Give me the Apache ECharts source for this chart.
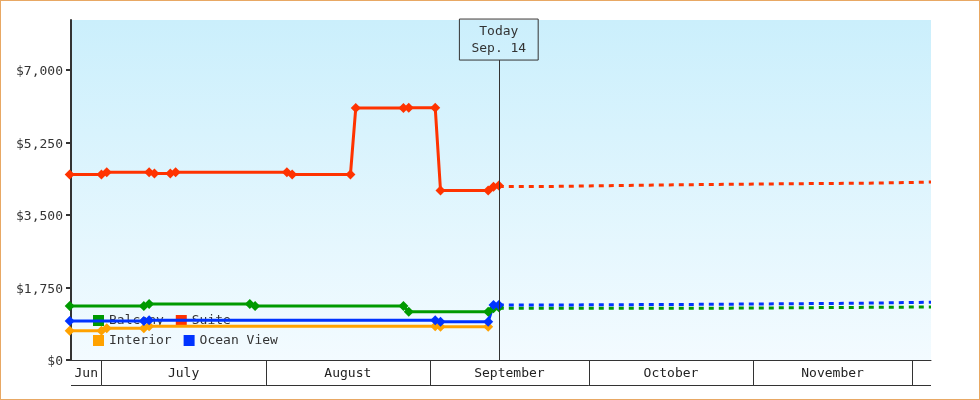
<!DOCTYPE html>
<html lang="en">
<head>
<meta charset="UTF-8">
<title>Cabin prices</title>
<style>
  html, body { margin: 0; padding: 0; background: #fff; }
  #wrap { position: relative; width: 980px; height: 400px; }
  #chart { width: 980px; height: 400px; }
  #frame { position: absolute; left: 0; top: 0; width: 980px; height: 400px;
           box-sizing: border-box; border: 1px solid #e8a864; pointer-events: none; }
</style>
</head>
<body>
<div id="wrap">
  <div id="chart"></div>
  <div id="frame"></div>
</div>
<script src="https://cdn.jsdelivr.net/npm/echarts@6/dist/echarts.min.js"></script>
<script>
// axis range and labels
var xStart = '2013-06-25 06:00';
var xEnd = '2013-12-04 14:00';
var today = '2013-09-14';
var todayLabel = 'Today\nSep. 14';
var yTicks = [0, 1750, 3500, 5250, 7000];
var yMax = 8207;
var todayLineTop = 7240;

var monthStarts = ['2013-06-01', '2013-07-01', '2013-08-01', '2013-09-01',
                   '2013-10-01', '2013-11-01', '2013-12-01', '2014-01-01'];
var monthLabels = ['Jun', 'July', 'August', 'September', 'October', 'November', ''];

// observed prices
var balcony = [
  ['2013-06-25', 1303], ['2013-07-09', 1303], ['2013-07-10', 1352], ['2013-07-29', 1352],
  ['2013-07-30', 1303], ['2013-08-27', 1303], ['2013-08-28', 1166], ['2013-09-12', 1166],
  ['2013-09-13', 1248], ['2013-09-14', 1272]
];
var suite = [
  ['2013-06-25', 4480], ['2013-07-01', 4480], ['2013-07-02', 4530], ['2013-07-10', 4530],
  ['2013-07-11', 4500], ['2013-07-14', 4500], ['2013-07-15', 4530], ['2013-08-05', 4530],
  ['2013-08-06', 4480], ['2013-08-17', 4480], ['2013-08-18', 6080], ['2013-08-27', 6080],
  ['2013-08-28', 6090], ['2013-09-02', 6090], ['2013-09-03', 4090], ['2013-09-12', 4090],
  ['2013-09-13', 4180], ['2013-09-14', 4210]
];
var interior = [
  ['2013-06-25', 708], ['2013-07-01', 708], ['2013-07-02', 764], ['2013-07-09', 764],
  ['2013-07-10', 815], ['2013-09-02', 815], ['2013-09-03', 805], ['2013-09-12', 805]
];
var oceanView = [
  ['2013-06-25', 941], ['2013-07-09', 941], ['2013-07-10', 958], ['2013-09-02', 958],
  ['2013-09-03', 926], ['2013-09-12', 926], ['2013-09-13', 1330], ['2013-09-14', 1330]
];

// forecast (dotted)
var balconyForecast = [['2013-09-14', 1250], ['2013-10-25', 1280], [xEnd, 1280]];
var suiteForecast = [
  ['2013-09-14', 4190], ['2013-09-24', 4225], ['2013-10-15', 4250],
  ['2013-11-04', 4270], ['2013-11-24', 4295], [xEnd, 4295]
];
var oceanForecast = [
  ['2013-09-14', 1330], ['2013-09-28', 1345], ['2013-10-25', 1370],
  ['2013-11-21', 1395], [xEnd, 1395]
];

var colors = { Balcony: '#009a00', Suite: '#ff3300', Interior: '#ffa200', 'Ocean View': '#0033ff' };
var FONT = 'DejaVu Sans Mono';

function ts(s) {
  var p = s.split(/[- :]/).map(Number);
  return new Date(p[0], p[1] - 1, p[2], p[3] || 0, p[4] || 0).getTime();
}
function pts(list) {
  return list.map(function (d) { return [ts(d[0]), d[1]]; });
}

var monthBands = [];
for (var i = 0; i < monthLabels.length; i++) {
  monthBands.push([ts(monthStarts[i]), ts(monthStarts[i + 1])]);
}

function renderMonth(params, api) {
  var cs = params.coordSys;
  var x0 = Math.max(api.coord([api.value(0), 0])[0], cs.x);
  var x1 = Math.min(api.coord([api.value(1), 0])[0], cs.x + cs.width);
  if (x1 <= x0) return;
  var top = cs.y, bottom = Math.round(cs.y + cs.height) + 0.5;
  var children = [{
    type: 'line',
    shape: { x1: x0, y1: bottom, x2: x1, y2: bottom },
    style: { stroke: '#333', lineWidth: 1 }
  }];
  if (x0 > cs.x + 1) {
    var lx = Math.round(x0) + 0.5;
    children.push({
      type: 'line',
      shape: { x1: lx, y1: top, x2: lx, y2: bottom },
      style: { stroke: '#333', lineWidth: 1 }
    });
  }
  children.push({
    type: 'text',
    style: {
      text: monthLabels[params.dataIndex],
      x: (x0 + x1) / 2, y: (top + bottom) / 2 + 1,
      align: 'center', verticalAlign: 'middle',
      font: '13px "' + FONT + '"', fill: '#222'
    }
  });
  return { type: 'group', children: children };
}

function solid(name, data) {
  return {
    name: name, type: 'line', data: pts(data),
    xAxisIndex: 0, yAxisIndex: 0, z: 3,
    clip: false, showAllSymbol: true,
    symbol: 'diamond', symbolSize: 10,
    itemStyle: { color: colors[name] },
    lineStyle: { color: colors[name], width: 3 }
  };
}
function dotted(name, data) {
  return {
    name: name, type: 'line', data: pts(data),
    xAxisIndex: 0, yAxisIndex: 0, z: 3,
    step: 'end', symbol: 'none',
    itemStyle: { color: colors[name] },
    lineStyle: { color: colors[name], width: 3, type: [5, 5] }
  };
}

var suiteSeries = solid('Suite', suite);
suiteSeries.markLine = {
  silent: true, symbol: ['none', 'none'], animation: false,
  lineStyle: { color: '#333', width: 1, type: 'solid' },
  label: {
    show: true, position: 'end', distance: 0, formatter: todayLabel,
    color: '#333', fontFamily: FONT, fontSize: 13, lineHeight: 17,
    padding: [4, 12, 3, 12], borderColor: '#333', borderWidth: 1
  },
  data: [[{ coord: [ts(today), 0] }, { coord: [ts(today), todayLineTop] }]]
};

var legendText = { fontFamily: FONT, fontSize: 13, color: '#333', width: 62 };

var chart = echarts.init(document.getElementById('chart'));
chart.setOption({
  animation: false,
  backgroundColor: '#fff',
  textStyle: { fontFamily: FONT },
  grid: [
    {
      left: 71, right: 49, top: 20, bottom: 40, show: true, borderWidth: 0, z: 0,
      backgroundColor: new echarts.graphic.LinearGradient(0, 0, 0, 1, [
        { offset: 0, color: '#cbeffc' },
        { offset: 1, color: '#f3fbff' }
      ])
    },
    { left: 71, right: 49, top: 360, height: 25 }
  ],
  legend: [
    {
      data: ['Balcony', 'Suite'], left: 93, top: 314, z: 1, padding: 0,
      icon: 'rect', itemWidth: 11, itemHeight: 11, itemGap: 12,
      textStyle: legendText, selectedMode: false
    },
    {
      data: ['Interior', 'Ocean View'], left: 93, top: 334, z: 1, padding: 0,
      icon: 'rect', itemWidth: 11, itemHeight: 11, itemGap: 12,
      textStyle: legendText, selectedMode: false
    }
  ],
  xAxis: [
    {
      type: 'time', gridIndex: 0, min: ts(xStart), max: ts(xEnd),
      axisLine: { show: true, onZero: false, lineStyle: { color: '#333', width: 1 } },
      axisTick: { show: false }, axisLabel: { show: false }, splitLine: { show: false }
    },
    { type: 'time', gridIndex: 1, min: ts(xStart), max: ts(xEnd), show: false }
  ],
  yAxis: [
    {
      type: 'value', gridIndex: 0, min: 0, max: yMax,
      axisLine: { show: true, lineStyle: { color: '#333', width: 2 } },
      axisTick: { show: true, length: 5, customValues: yTicks, lineStyle: { color: '#333', width: 2 } },
      axisLabel: {
        customValues: yTicks, margin: 8, color: '#333', fontFamily: FONT, fontSize: 13,
        formatter: function (v) { return '{p|$' + v.toLocaleString('en-US') + '}'; },
        rich: { p: { color: '#333', fontFamily: FONT, fontSize: 13, padding: [4, 0, 0, 0] } }
      },
      splitLine: { show: false }
    },
    { type: 'value', gridIndex: 1, min: 0, max: 1, show: false }
  ],
  series: [
    solid('Balcony', balcony),
    suiteSeries,
    solid('Interior', interior),
    solid('Ocean View', oceanView),
    dotted('Balcony', balconyForecast),
    dotted('Suite', suiteForecast),
    dotted('Ocean View', oceanForecast),
    {
      type: 'custom', xAxisIndex: 1, yAxisIndex: 1, silent: true,
      dimensions: [{ name: 'start', type: 'time' }, { name: 'end', type: 'time' }],
      encode: { x: [0, 1] },
      renderItem: renderMonth,
      data: monthBands
    }
  ]
});
</script>
</body>
</html>
